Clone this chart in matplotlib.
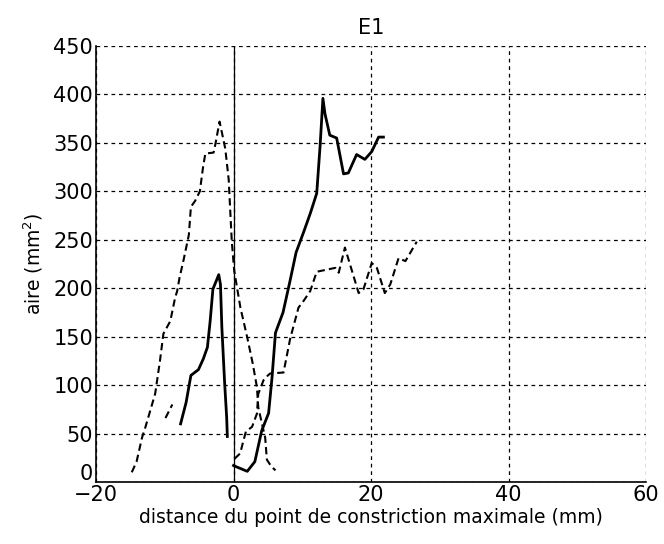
import matplotlib.pyplot as plt
from matplotlib.transforms import ScaledTranslation

# courbe pointillée de gauche (traverse le zéro)
xA = [-14.8, -14.1, -13.3, -12.8, -12.1, -11.4, -10.7, -10.2, -9.2, -8.5, -8.2, -7.85, -7.3,
      -6.5, -6.2, -5.6, -4.9, -4.45, -4.1, -2.9, -2.66, -2.03, -1.7, -1.2, -0.7, -0.5, -0.25,
      0.1, 1.0, 2.0, 2.8, 3.4, 3.6, 4.3, 4.6, 4.85, 5.5, 6.1]
yA = [10, 21, 46, 57, 74, 91, 125, 153, 166, 190, 197, 211, 228,
      255, 284, 290, 300, 324, 339, 340, 348, 372, 361, 344, 312, 283, 248,
      218, 180, 149, 122, 98, 77, 55, 46, 23, 16, 12]

# petit segment pointillé
xB = [-9.9, -8.9]
yB = [66, 80]

# courbe pleine de gauche
xC = [-7.7, -6.9, -6.2, -5.1, -4.4, -3.8, -3.4, -3.0, -2.15, -1.9, -1.7, -1.3, -1.0, -0.9]
yC = [60, 82, 110, 116, 127, 139, 166, 199, 214, 204, 160, 103, 67, 47]

# courbe pleine de droite
xD = [0, 0.3, 2.0, 3.1, 4.1, 5.1, 5.6, 6.1, 7.2, 8.2, 9.1, 10.2, 11.2, 12.1, 12.6,
      13.0, 13.3, 14.0, 15.0, 16.0, 16.7, 17.9, 19.1, 20.1, 21.1, 21.8]
yD = [17, 16, 11, 21, 53, 71, 108, 154, 175, 207, 237, 258, 278, 298, 348,
      396, 380, 358, 355, 318, 319, 338, 333, 341, 356, 356]

# courbe pointillée de droite
xE = [0.15, 0.97, 1.45, 1.8, 2.7, 3.4, 3.6, 4.36, 5.0, 5.33, 7.27, 8.24, 9.45, 10.2, 11.15,
      12.1, 14.8, 15.3, 16.2, 18.2, 18.9, 20.1, 20.85, 22.0, 22.8, 24.0, 25.0, 26.65]
yE = [24, 29.5, 43, 52, 57, 70.5, 91, 105, 110, 112, 113, 148, 180, 187, 197,
      217, 221, 216, 242, 195, 199, 226, 221, 195, 204, 231, 228, 248]

plt.rcParams['font.family'] = 'DejaVu Sans'
fig = plt.figure(figsize=(6.64, 5.44), dpi=100)
ax = fig.add_axes([0.1446, 0.114, 0.973 - 0.1446, 0.9154 - 0.114])

ax.plot(xA, yA, color='black', linestyle=(0, (3.5, 2)), linewidth=1.5)
ax.plot(xB, yB, color='black', linestyle=(0, (3.5, 2)), linewidth=1.5)
ax.plot(xC, yC, color='black', linewidth=2)
ax.plot(xD, yD, color='black', linewidth=2)
ax.plot(xE, yE, color='black', linestyle=(0, (3.5, 2)), linewidth=1.5)
ax.axvline(0, color='black', linewidth=0.9)

ax.set_xlim(-20, 60)
ax.set_ylim(0, 450)
ax.set_xticks([-20, 0, 20, 40, 60])
ax.set_yticks(range(0, 451, 50))
ax.grid(True, color='black', linestyle=(0, (3, 3)), linewidth=0.9)
for s in ['top', 'right']:
    ax.spines[s].set_visible(False)
ax.spines['left'].set_linewidth(1.2)
ax.spines['bottom'].set_linewidth(1.2)
ax.tick_params(length=0, labelsize=15, pad=2)

# léger décalage du "0" vertical pour qu'il ne chevauche pas le "-20"
lab0 = ax.get_yticklabels()[0]
lab0.set_transform(lab0.get_transform() + ScaledTranslation(0, 7 / 72, fig.dpi_scale_trans))

ax.set_title('E1', fontsize=15, pad=9)
ax.set_xlabel('distance du point de constriction maximale (mm)', fontsize=13.5, labelpad=2)
ax.set_ylabel('aire (mm$^2$)', fontsize=13.5, labelpad=6)

plt.savefig('out.png', dpi=100)
